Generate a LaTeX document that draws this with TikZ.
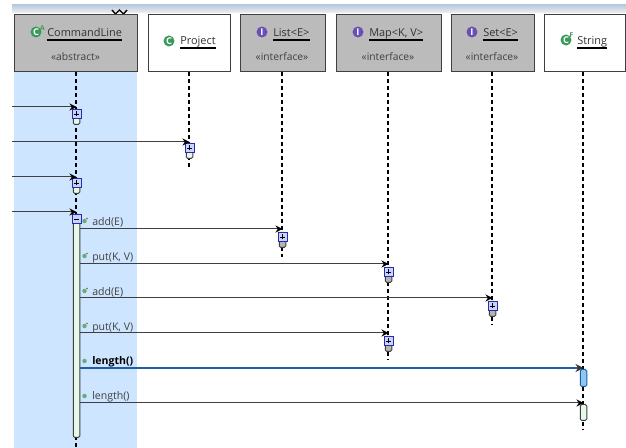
\documentclass[tikz,border=0pt]{standalone}
\usepackage{fontspec}
\setmainfont{Open Sans}
\usetikzlibrary{arrows.meta,shadings}
\def\px{0.75pt}
\definecolor{column}{HTML}{CDE5FF}
\definecolor{headgray}{HTML}{BBBBBB}
\definecolor{edge}{HTML}{3F3F3F}
\definecolor{barfill}{HTML}{E8F8E8}
\definecolor{bargray}{HTML}{B4B4B4}
\definecolor{boxblue}{HTML}{2A2AA6}
\definecolor{boxfill}{HTML}{C8D4FF}
\definecolor{selblue}{HTML}{1F5FA8}
\definecolor{selfill}{HTML}{8CC8F0}
\definecolor{iconpurple}{HTML}{6A4FB5}
\definecolor{icongreen}{HTML}{3A9A5B}
\definecolor{striptop}{HTML}{B9CADF}
\definecolor{stripbot}{HTML}{F0F0F0}
\tikzset{
  x=0.75pt, y=-0.75pt,
  headbox/.style={draw=edge, line width=1.1*\px, anchor=north west, inner sep=0pt, minimum height=57*\px},
  greyhead/.style={headbox, fill=headgray},
  whitehead/.style={headbox, fill=white},
  titletext/.style={inner sep=0pt, anchor=base west, text=black!80, font=\fontsize{8.2}{10}\selectfont},
  stereo/.style={inner sep=0pt, text=black!75, font=\fontsize{7.7}{9}\selectfont},
  under/.style={line width=1.5*\px, black},
  lifeline/.style={line width=1.6*\px, black, dash pattern=on 4*\px off 3*\px},
  actbar/.style={draw=edge, fill=barfill, line width=1*\px, rounded corners=1.5*\px, inner sep=0pt, minimum width=6.5*\px, anchor=north},
  graybar/.style={actbar, fill=bargray},
  selbar/.style={actbar, fill=selfill, draw=selblue},
  foldbox/.style={draw=boxblue, fill=boxfill, line width=1*\px, inner sep=0pt, minimum width=9*\px, minimum height=9*\px, anchor=north},
  plusbox/.style={foldbox, path picture={\draw[black, line width=0.8*\px]
     ([xshift=-2.5*\px]path picture bounding box.center) -- ([xshift=2.5*\px]path picture bounding box.center)
     ([yshift=-2.5*\px]path picture bounding box.center) -- ([yshift=2.5*\px]path picture bounding box.center);}},
  minusbox/.style={foldbox, path picture={\draw[black, line width=0.8*\px]
     ([xshift=-2.5*\px]path picture bounding box.center) -- ([xshift=2.5*\px]path picture bounding box.center);}},
  msg/.style={draw=edge, line width=1*\px, -{Stealth[length=7*\px,width=7*\px,black]}},
  selmsg/.style={draw=selblue, line width=2.6*\px, -{Stealth[length=8*\px,width=8*\px,black!80]}},
  msgtext/.style={inner sep=0pt, anchor=base west, text=black!75, font=\fontsize{7.9}{9}\selectfont},
  boldtext/.style={msgtext, text=black, font=\fontsize{7.9}{9}\selectfont\bfseries},
  classicon/.style={circle, fill=icongreen, inner sep=0pt, minimum size=11*\px, text=white, font=\fontsize{7}{7}\selectfont\bfseries},
  ifaceicon/.style={classicon, fill=iconpurple},
  marktext/.style={inner sep=0pt, font=\fontsize{5}{5}\selectfont\bfseries},
  methicon/.style={circle, fill=icongreen!80, inner sep=0pt, minimum size=4.5*\px},
  tick/.style={circle, fill=orange!70!black, inner sep=0pt, minimum size=1.6*\px},
}
\begin{document}
\begin{tikzpicture}
\useasboundingbox (0,0) rectangle (626,448);
\fill[white] (0,0) rectangle (626,448);
% top strip and selection column
\shade[top color=striptop, bottom color=stripbot] (12,5) rectangle (626,13);
\fill[column] (14,71) rectangle (137,448);
\draw[black, line width=1.4*\px] (112,10) -- (115.5,14) -- (119.5,10) -- (123.5,14) -- (127,10);
% heads
\node[greyhead, minimum width=123*\px] (cl) at (14,14) {};
\node[whitehead, minimum width=82*\px] (pr) at (148,14) {};
\node[greyhead, minimum width=85*\px] (li) at (240,14) {};
\node[greyhead, minimum width=105*\px] (ma) at (336,14) {};
\node[greyhead, minimum width=83*\px] (se) at (451,14) {};
\node[whitehead, minimum width=81*\px] (st) at (544,14) {};
% head titles
\node[classicon] (icl) at (36,32) {C};
\node[marktext, text=icongreen] (acl) at (42.5,28) {A};
\node[titletext] (tcl) at (47,37) {CommandLine};
\draw[under] ([yshift=-3*\px]tcl.base west) -- ([yshift=-3*\px]tcl.base east);
\node[stereo] (scl) at (75.5,57) {«abstract»};
\node[classicon] (ipr) at (169,41) {C};
\node[titletext] (tpr) at (180,45) {Project};
\draw[under] ([yshift=-3*\px]tpr.base west) -- ([yshift=-3*\px]tpr.base east);
\node[ifaceicon] (ili) at (262,32) {I};
\node[titletext] (tli) at (273,37) {List<E>};
\draw[under] ([yshift=-3*\px]tli.base west) -- ([yshift=-3*\px]tli.base east);
\node[stereo] (sli) at (282,57) {«interface»};
\node[ifaceicon] (ima) at (358,32) {I};
\node[titletext] (tma) at (369,37) {Map<K, V>};
\draw[under] ([yshift=-3*\px]tma.base west) -- ([yshift=-3*\px]tma.base east);
\node[stereo] (sma) at (388,57) {«interface»};
\node[ifaceicon] (ise) at (472,32) {I};
\node[titletext] (tse) at (483,37) {Set<E>};
\draw[under] ([yshift=-3*\px]tse.base west) -- ([yshift=-3*\px]tse.base east);
\node[stereo] (sse) at (492,57) {«interface»};
\node[classicon] (ist) at (566,40) {C};
\node[marktext, text=icongreen] (fst) at (571.5,35) {F};
\node[titletext] (tst) at (577,45) {String};
\draw[under] ([yshift=-3*\px]tst.base west) -- ([yshift=-3*\px]tst.base east);
% lifeline ends
\coordinate (ecl) at (76,448);
\coordinate (epr) at (189,168);
\coordinate (eli) at (282,257);
\coordinate (ema) at (388,360);
\coordinate (ese) at (492,325);
\coordinate (est) at (583,430);
\draw[lifeline] (cl.south -| ecl) -- (ecl);
\draw[lifeline] (pr.south -| epr) -- (epr);
\draw[lifeline] (li.south -| eli) -- (eli);
\draw[lifeline] (ma.south -| ema) -- (ema);
\draw[lifeline] (se.south -| ese) -- (ese);
\draw[lifeline] (st.south -| est) -- (est);
% activations
\node[actbar, minimum height=15*\px] (b1) at (76.5,109) {};
\node[plusbox] (p1) at (76.5,109) {};
\node[actbar, minimum height=15*\px] (b2) at (189.5,143) {};
\node[plusbox] (p2) at (189.5,143) {};
\node[actbar, minimum height=15*\px] (b3) at (76.5,178) {};
\node[plusbox] (p3) at (76.5,178) {};
\node[actbar, minimum height=223*\px] (b4) at (76.5,214) {};
\node[minusbox] (p4) at (76.5,214) {};
\node[graybar, minimum height=15*\px] (b5) at (282.5,232) {};
\node[plusbox] (p5) at (282.5,232) {};
\node[graybar, minimum height=15*\px] (b6) at (388.5,267) {};
\node[plusbox] (p6) at (388.5,267) {};
\node[graybar, minimum height=15*\px] (b7) at (492.5,301) {};
\node[plusbox] (p7) at (492.5,301) {};
\node[graybar, minimum height=15*\px] (b8) at (388.5,336) {};
\node[plusbox] (p8) at (388.5,336) {};
\node[selbar, minimum height=17*\px] (b9) at (583.5,369) {};
\node[actbar, minimum height=16*\px] (b10) at (583.5,404) {};
% incoming messages
\coordinate (s1) at (12,107);
\coordinate (s2) at (12,142);
\coordinate (s3) at (12,177);
\coordinate (s4) at (12,212);
\draw[msg] (s1) -- (p1.north |- s1);
\draw[msg] (s2) -- (p2.north |- s2);
\draw[msg] (s3) -- (p3.north |- s3);
\draw[msg] (s4) -- (p4.north |- s4);
% outgoing messages
\coordinate (m5) at (0,229);
\coordinate (m6) at (0,264);
\coordinate (m7) at (0,298);
\coordinate (m8) at (0,333);
\coordinate (m9) at (0,368);
\coordinate (m10) at (0,403);
\draw[msg] (b4.east |- m5) -- (p5.north |- m5);
\draw[msg] (b4.east |- m6) -- (p6.north |- m6);
\draw[msg] (b4.east |- m7) -- (p7.north |- m7);
\draw[msg] (b4.east |- m8) -- (p8.north |- m8);
\draw[selmsg] (b4.east |- m9) -- (b9.north |- m9);
\draw[msg] (b4.east |- m10) -- (b10.north |- m10);
% message labels
\node[methicon] (c5) at (84.5,221) {}; \node[tick] (k5) at (87,218.5) {};
\node[msgtext] (l5) at (92,225.5) {add(E)};
\node[methicon] (c6) at (84.5,256) {}; \node[tick] (k6) at (87,253.5) {};
\node[msgtext] (l6) at (92,260.5) {put(K, V)};
\node[methicon] (c7) at (84.5,291) {}; \node[tick] (k7) at (87,288.5) {};
\node[msgtext] (l7) at (92,295.5) {add(E)};
\node[methicon] (c8) at (84.5,326) {}; \node[tick] (k8) at (87,323.5) {};
\node[msgtext] (l8) at (92,330.5) {put(K, V)};
\node[methicon] (c9) at (84.5,361) {};
\node[boldtext] (l9) at (92,365) {length()};
\node[methicon] (c10) at (84.5,396) {};
\node[msgtext] (l10) at (92,400) {length()};
\end{tikzpicture}
\end{document}
